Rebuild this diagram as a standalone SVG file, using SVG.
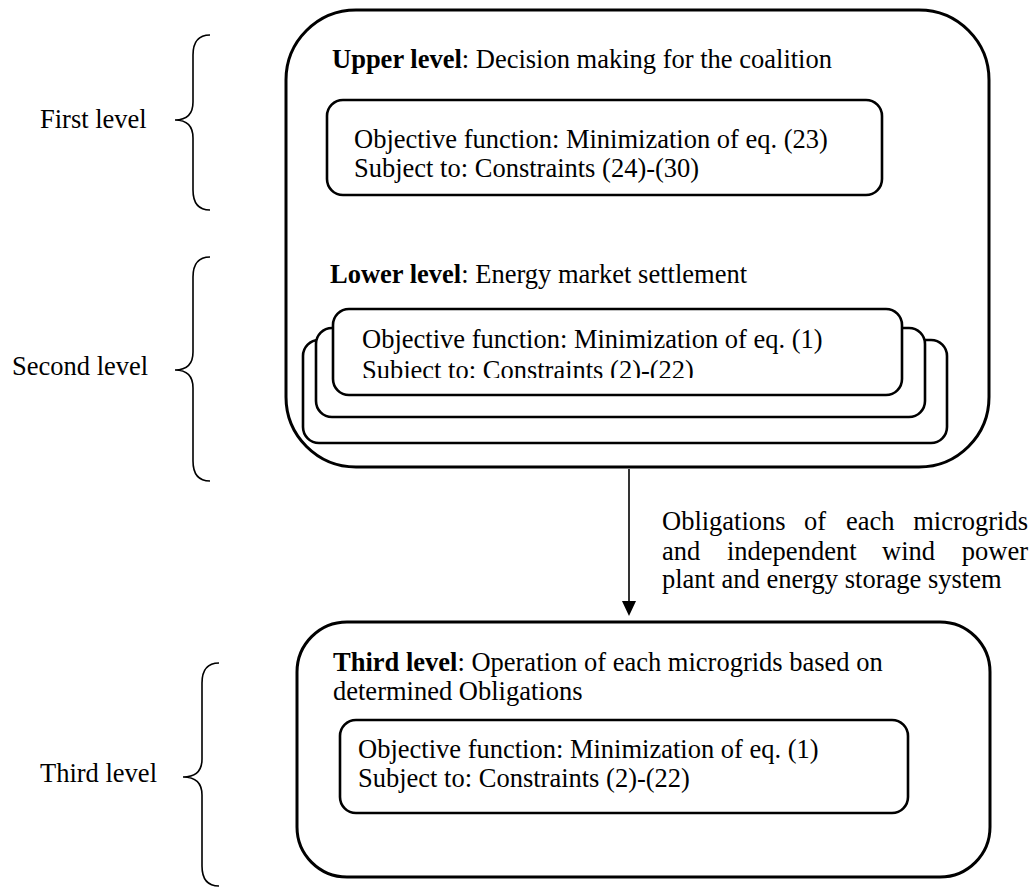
<svg xmlns="http://www.w3.org/2000/svg" width="1032" height="889" viewBox="0 0 1032 889">
<style>
  text { font-family: "Liberation Serif", "Times New Roman", serif; font-size: 26.5px; fill: #000; }
  .b { font-weight: bold; }
  .outer { fill: #fff; stroke: #000; stroke-width: 3; }
  .inner { fill: #fff; stroke: #000; stroke-width: 2.6; }
  .brace { fill: none; stroke: #000; stroke-width: 1.6; }
  .conn { stroke: #000; stroke-width: 1.6; fill: none; }
</style>
<defs>
  <clipPath id="frontClip"><rect x="334" y="310" width="567" height="68"/></clipPath>
</defs>
<rect width="1032" height="889" fill="#fff"/>

<g id="brace-first">
  <path class="brace" d="M210,35 Q193,35 193,55 L193,102 Q193,120 175,120 Q193,120 193,138 L193,190 Q193,210 210,210"/>
  <text x="40" y="128">First level</text>
</g>
<g id="brace-second">
  <path class="brace" d="M210,257 Q193,257 193,277 L193,352 Q193,370 175,370 Q193,370 193,388 L193,461 Q193,481 210,481"/>
  <text x="12" y="375">Second level</text>
</g>
<g id="brace-third">
  <path class="brace" d="M219,663 Q202,663 202,683 L202,759 Q202,777 183,777 Q202,777 202,795 L202,866 Q202,886 219,886"/>
  <text x="40" y="782">Third level</text>
</g>

<g id="upper-lower-box">
  <rect class="outer" x="286" y="10" width="703" height="457" rx="70" ry="70"/>
  <text x="332" y="68"><tspan class="b">Upper level</tspan>: Decision making for the coalition</text>
</g>
<g id="upper-objective">
  <rect class="inner" x="327" y="100" width="555" height="95" rx="16" ry="16"/>
  <text x="354" y="148">Objective function: Minimization of eq. (23)</text>
  <text x="354" y="177">Subject to: Constraints (24)-(30)</text>
</g>
<g id="lower-label">
  <text x="330" y="283"><tspan class="b">Lower level</tspan>: Energy market settlement</text>
</g>
<g id="lower-stack-back">
  <rect class="inner" x="303" y="340" width="644" height="103" rx="16" ry="16"/>
</g>
<g id="lower-stack-middle">
  <rect class="inner" x="316" y="328" width="609" height="89" rx="16" ry="16"/>
</g>
<g id="lower-objective">
  <rect class="inner" x="333" y="309" width="569" height="86" rx="16" ry="16"/>
  <g clip-path="url(#frontClip)">
    <text x="362" y="348">Objective function: Minimization of eq. (1)</text>
    <text x="362" y="379">Subject to: Constraints (2)-(22)</text>
  </g>
</g>

<g id="third-box">
  <rect class="outer" x="297" y="622" width="693" height="255" rx="50" ry="50"/>
  <text x="333" y="671"><tspan class="b">Third level</tspan>: Operation of each microgrids based on</text>
  <text x="333" y="700">determined Obligations</text>
</g>
<g id="third-objective">
  <rect class="inner" x="340" y="720" width="568" height="93" rx="16" ry="16"/>
  <text x="358" y="758">Objective function: Minimization of eq. (1)</text>
  <text x="358" y="787">Subject to: Constraints (2)-(22)</text>
</g>

<g id="connectors">
  <line class="conn" x1="629" y1="469" x2="629" y2="603"/>
  <polygon points="622,601 636,601 629,616" fill="#000"/>
  <g id="arrow-label">
    <text x="662" y="530">Obligations</text>
    <text x="804" y="530">of</text>
    <text x="846" y="530">each</text>
    <text x="1028" y="530" text-anchor="end">microgrids</text>
    <text x="662" y="560">and</text>
    <text x="727" y="560">independent</text>
    <text x="882" y="560">wind</text>
    <text x="1028" y="560" text-anchor="end">power</text>
    <text x="662" y="588">plant and energy storage system</text>
  </g>
</g>
</svg>
